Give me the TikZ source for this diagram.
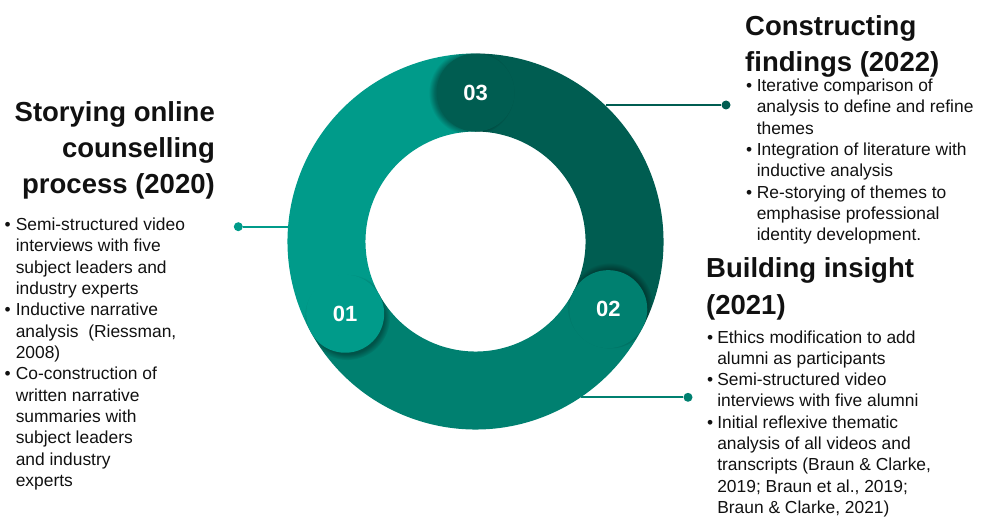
\documentclass[tikz,border=0pt]{standalone}
\usepackage{fontspec}
\setmainfont{Liberation Sans}
\usetikzlibrary{calc,fadings}

\definecolor{tealA}{HTML}{009B8A}
\definecolor{tealB}{HTML}{008070}
\definecolor{tealC}{HTML}{005D51}
\definecolor{ink}{HTML}{111111}

\begin{document}
\begin{tikzpicture}[x=1pt,y=1pt,
    seg/.style={line width=78pt},
    capnode/.style={circle,minimum size=78pt,inner sep=0pt,text=white,
      font=\fontsize{22}{22}\selectfont\bfseries},
    dot/.style={circle,inner sep=0pt,minimum size=9pt},
    link/.style={line width=2pt},
    heading/.style={inner sep=0pt,text=ink,font=\fontsize{27.5}{36}\selectfont\bfseries},
    body/.style={inner sep=0pt,text=ink,font=\fontsize{17.4}{21.3}\selectfont}]

    \useasboundingbox (0,0) rectangle (984,517);

    % centre of the ring and its outer rim
    \coordinate (c) at (475.5,275.5);
    \node[circle,minimum size=376pt,inner sep=0pt] (ring) at (c) {};

    % dots and lines out to the text
    \node[dot,fill=tealA] (d1) at (238.3,290.3) {};
    \node[dot,fill=tealB] (d2) at (688,119.7) {};
    \node[dot,fill=tealC] (d3) at (726,412) {};

    \path [link,tealA](d1) edge (d1 -| ring.175.5);
    \path [link,tealB](d2) edge (d2 -| ring.304);
    \path [link,tealC](d3) edge (d3 -| ring.46.5);

    % three stages round the ring
    \draw[seg,tealA] ($(c)+(209:149)$) arc[start angle=209,end angle=90,radius=149];
    \draw[seg,tealB] ($(c)+(209:149)$) arc[start angle=209,end angle=333,radius=149];
    \draw[seg,tealC] ($(c)+(333:149)$) arc[start angle=333,end angle=450,radius=149];

    % soft shade in front of each round end
    \begin{scope}[even odd rule]
        \clip (c) circle (188) (c) circle (110);
        \foreach \a in {210.5,334.5,91.5}
            \fill[black,opacity=.35,path fading=circle with fuzzy edge 15 percent]
                ($(c)+(\a:149)$) circle (43);
    \end{scope}

    \node[capnode,fill=tealA] (n1) at ($(c)+(209:149)$) {01};
    \node[capnode,fill=tealB] (n2) at ($(c)+(333:149)$) {02};
    \node[capnode,fill=tealC] (n3) at ($(c)+(90:149)$) {03};

    % stage 1
    \node[heading,anchor=base east] (h1) at (215,395.5) {%
        \begin{tabular}[t]{@{}r@{}}
        Storying online\\
        counselling\\
        process (2020)
        \end{tabular}};
    \node[body,anchor=base west] (b1) at (4.5,286.3) {%
        \begin{tabular}[t]{@{}c@{\hspace{5pt}}l@{}}
        \textbullet & Semi-structured video\\
         & interviews with five\\
         & subject leaders and\\
         & industry experts\\
        \textbullet & Inductive narrative\\
         & analysis~ (Riessman,\\
         & 2008)\\
        \textbullet & Co-construction of\\
         & written narrative\\
         & summaries with\\
         & subject leaders\\
         & and industry\\
         & experts
        \end{tabular}};

    % stage 3
    \node[heading,anchor=base west] (h3) at (745,481) {%
        \begin{tabular}[t]{@{}l@{}}
        Constructing\\
        findings (2022)
        \end{tabular}};
    \node[body,anchor=base west] (b3) at (746,425.3) {%
        \begin{tabular}[t]{@{}c@{\hspace{4.5pt}}l@{}}
        \textbullet & Iterative comparison of\\
         & analysis to define and refine\\
         & themes\\
        \textbullet & Integration of literature with\\
         & inductive analysis\\
        \textbullet & Re-storying of themes to\\
         & emphasise professional\\
         & identity development.
        \end{tabular}};

    % stage 2
    \node[heading,anchor=base west] (h2) at (706,239) {%
        \begin{tabular}[t]{@{}l@{}}
        Building insight\\
        (2021)
        \end{tabular}};
    \node[body,anchor=base west] (b2) at (707,174) {%
        \begin{tabular}[t]{@{}c@{\hspace{4pt}}l@{}}
        \textbullet & Ethics modification to add\\
         & alumni as participants\\
        \textbullet & Semi-structured video\\
         & interviews with five alumni\\
        \textbullet & Initial reflexive thematic\\
         & analysis of all videos and\\
         & transcripts (Braun \& Clarke,\\
         & 2019; Braun et al., 2019;\\
         & Braun \& Clarke, 2021)
        \end{tabular}};
\end{tikzpicture}
\end{document}
